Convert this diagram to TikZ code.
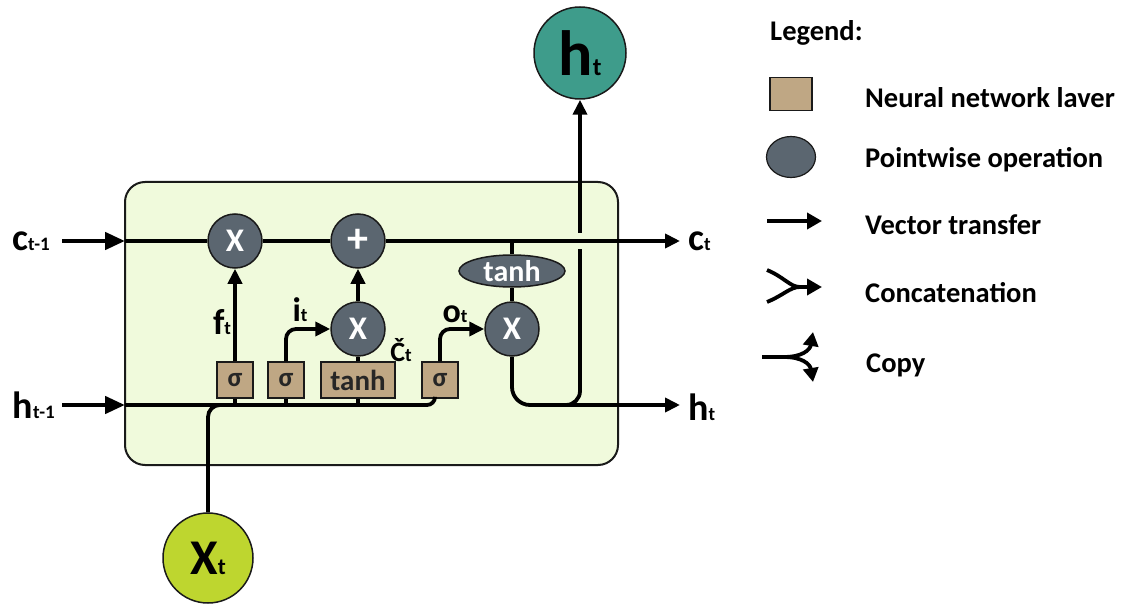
\documentclass[tikz,border=0pt]{standalone}
\usepackage{fontspec}
\setmainfont{Carlito}
\usetikzlibrary{arrows.meta,shapes.geometric}
\definecolor{cellbg}{HTML}{F0FADC}
\definecolor{opgray}{HTML}{5B6670}
\definecolor{layertan}{HTML}{BFA784}
\definecolor{outteal}{HTML}{3E9C8B}
\definecolor{inlime}{HTML}{BED62F}
\definecolor{edge}{HTML}{1A1A1A}
\newcommand{\fs}[1]{\fontsize{#1}{#1}\selectfont}
\begin{document}
\begin{tikzpicture}[x=1pt,y=-1pt,
  every node/.style={font=\bfseries},
  op/.style={circle, draw=edge, line width=1.5pt, fill=opgray, minimum size=54pt,
    inner sep=0pt, text=white, font=\bfseries\fs{33}},
  layer/.style={rectangle, draw=edge, line width=1.5pt, fill=layertan, minimum height=36pt,
    minimum width=36pt, inner sep=0pt, font=\bfseries\fs{27}, text=black!85},
  wire/.style={line width=3.8pt, draw=black},
  flow/.style={wire, -{Triangle[length=15pt,width=14pt]}},
  entry/.style={line width=4.5pt, -{Triangle[length=20pt,width=17pt]}},
  lab/.style={inner sep=0pt, font=\bfseries},
  legtext/.style={anchor=base west, inner sep=0pt, font=\bfseries\fs{28.5}},
]
\useasboundingbox (0,0) rectangle (1131,612);

% cell body
\node[draw=edge, line width=2pt, fill=cellbg, rounded corners=20pt,
      minimum width=493pt, minimum height=283pt, inner sep=0pt] (cell) at (371.5,323.5) {};

% pointwise operations
\node[op] (fX) at (235,241) {X};
\node[op, font=\bfseries\fs{42}] (plus) at (358,241) {+};
\node[op] (iX) at (358,329) {X};
\node[op] (oX) at (512,329) {X};
\node[ellipse, draw=edge, line width=1.5pt, fill=opgray, minimum width=106pt, minimum height=32pt,
      inner sep=0pt, text=white, font=\bfseries\fs{30}] (tanhE) at (512,271) {tanh};

% network layers
\node[layer] (s1) at (235,380) {σ};
\node[layer] (s2) at (286,380) {σ};
\node[layer, minimum width=74pt, font=\bfseries\fs{29}] (tb) at (358,380) {tanh};
\node[layer] (s4) at (440,380) {σ};

% inputs and outputs
\node[circle, draw=edge, line width=1.5pt, fill=outteal, minimum size=92pt, inner sep=0pt] (ht) at (580,53)
  {\fs{64}h\fs{25}t};
\node[circle, draw=edge, line width=1.5pt, fill=inlime, minimum size=90pt, inner sep=0pt] (xt) at (208,558)
  {\fs{50}X\fs{23}t};

% wire end points
\coordinate (cinS) at (62,241);
\coordinate (cl) at (125,241);
\coordinate (hinS) at (62,405);
\coordinate (hl) at (125,405);
\coordinate (cout) at (680,241);
\coordinate (hout) at (680,405);
\coordinate (tap) at (512,241);
\coordinate (upLow) at (580,249);
\coordinate (upHigh) at (580,233);

% external arrows
\draw[entry] (cinS) -- (cl);
\draw[entry] (hinS) -- (hl);

% cell state line
\draw[wire] (cl) -- (fX.west);
\draw[wire] (fX.east) -- (plus.west);
\draw[flow] (plus.east) -- (cout);

% hidden/input line
\draw[wire, rounded corners=8pt] (hl) -| ([xshift=-5pt]s4.south);
\draw[wire, rounded corners=12pt] (xt.north) |- (250,405);
\draw[wire] (s1.south) -- (s1.south |- hl);
\draw[wire] (s2.south) -- (s2.south |- hl);
\draw[wire] (tb.south) -- (tb.south |- hl);

% gates
\draw[flow] (s1.north) -- (fX.south);
\draw[flow, rounded corners=10pt] (s2.north) |- (iX.west);
\draw[wire] (tb.north) -- (iX.south);
\draw[flow] (iX.north) -- (plus.south);
\draw[flow, rounded corners=10pt] (s4.north) |- (oX.west);
\draw[wire] (tap) -- (tanhE.north);
\draw[wire] (tanhE.south) -- (oX.north);
\draw[flow, rounded corners=18pt] (oX.south) |- (hout);
\draw[wire, rounded corners=14pt] (550,405) -| (upLow);
\draw[flow] (upHigh) -- (ht.south);

% labels
\node[lab, anchor=east] (lcin) at (50,241) {\fs{38}c\fs{19}t-1};
\node[lab, anchor=east] (lhin) at (55,405) {\fs{38}h\fs{19}t-1};
\node[lab, anchor=west] (lcout) at (688,241) {\fs{38}c\fs{19}t};
\node[lab, anchor=west] (lhout) at (688,407) {\fs{38}h\fs{19}t};
\node[lab] (lf) at (222,322) {\fs{36}f\fs{19}t};
\node[lab] (li) at (300,310) {\fs{34}i\fs{19}t};
\node[lab] (lo) at (455,314) {\fs{34}o\fs{19}t};
\node[lab] (lct) at (401,350) {\fs{28}Č\fs{19}t};

% legend
\node[legtext] (lgTitle) at (770,41) {Legend:};
\node[rectangle, draw=edge, line width=1.5pt, fill=layertan, minimum width=42pt, minimum height=33pt,
      inner sep=0pt] (lgLayer) at (791,94) {};
\node[legtext] (lgLayerT) at (865,108) {Neural network laver};
\node[ellipse, draw=edge, line width=1.2pt, fill=opgray, minimum width=49pt, minimum height=41pt,
      inner sep=0pt] (lgOp) at (791,157) {};
\node[legtext] (lgOpT) at (865,168) {Pointwise operation};
\coordinate (lgA1) at (767,221);
\coordinate (lgA2) at (822,221);
\draw[wire, -{Triangle[length=15pt,width=16pt]}] (lgA1) -- (lgA2);
\node[legtext] (lgVecT) at (865,234) {Vector transfer};
\draw[wire] (767,270) .. controls (784,277) and (790,287) .. (800,287);
\draw[wire] (767,302) .. controls (784,295) and (790,287) .. (800,287);
\draw[wire, -{Triangle[length=15pt,width=16pt]}] (796,287) -- (822,287);
\node[legtext] (lgCatT) at (865,302) {Concatenation};
\draw[wire] (762,357) -- (786,357);
\draw[wire, -{Triangle[length=14pt,width=15pt]}] (784,357) .. controls (802,357) and (810,350) .. (813,332);
\draw[wire, -{Triangle[length=14pt,width=15pt]}] (784,357) .. controls (802,357) and (810,364) .. (813,382);
\node[legtext] (lgCopyT) at (866,372) {Copy};
\end{tikzpicture}
\end{document}
